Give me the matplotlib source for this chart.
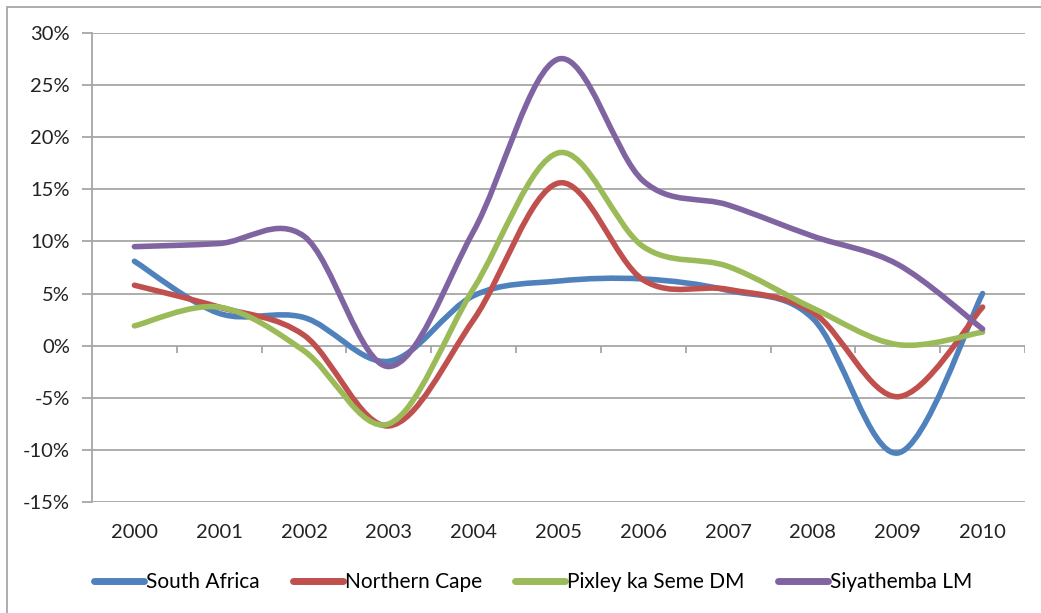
import numpy as np
import matplotlib
matplotlib.use("Agg")
import matplotlib.pyplot as plt
from matplotlib.path import Path
from matplotlib.patches import PathPatch, Rectangle
from matplotlib.lines import Line2D
from matplotlib.ticker import FuncFormatter

plt.rcParams["font.family"] = ["Lato", "DejaVu Sans"]

years = [2000, 2001, 2002, 2003, 2004, 2005, 2006, 2007, 2008, 2009, 2010]

# annual growth, %
south_africa   = [8.1, 3.1, 2.7, -1.5, 4.8, 6.2, 6.4, 5.3, 2.6, -10.3, 5.0]
northern_cape  = [5.8, 3.7, 1.0, -7.7, 2.5, 15.6, 6.3, 5.4, 3.2, -4.9, 3.7]
pixley_ka_seme = [1.9, 3.7, -0.5, -7.5, 5.5, 18.5, 9.5, 7.6, 3.6, 0.1, 1.3]
siyathemba     = [9.5, 9.8, 10.5, -2.0, 11.0, 27.5, 15.8, 13.5, 10.5, 7.8, 1.6]

series = [
    ("South Africa", south_africa, "#4F81BD"),
    ("Northern Cape", northern_cape, "#C0504D"),
    ("Pixley ka Seme DM", pixley_ka_seme, "#9BBB59"),
    ("Siyathemba LM", siyathemba, "#8064A2"),
]


def smooth_path(xs, ys):
    # Catmull-Rom style bezier segments, like a spreadsheet "smoothed line"
    p = np.column_stack([xs, ys]).astype(float)
    n = len(p)
    verts = [p[0]]
    codes = [Path.MOVETO]
    for i in range(n - 1):
        p0 = p[max(i - 1, 0)]
        p1 = p[i]
        p2 = p[i + 1]
        p3 = p[min(i + 2, n - 1)]
        c1 = p1 + (p2 - p0) / 6.0
        c2 = p2 - (p3 - p1) / 6.0
        verts += [c1, c2, p2]
        codes += [Path.CURVE4] * 3
    return Path(verts, codes)


fig = plt.figure(figsize=(10.41, 6.13), dpi=100)
ax = fig.add_axes([92 / 1041, 1 - 502 / 613, (1025 - 92) / 1041, (502 - 33) / 613])

# outer chart frame
fig.patches.append(Rectangle((7 / 1041, -0.05), 1.1, 1 - 7 / 613 + 0.05,
                             transform=fig.transFigure, fill=False,
                             edgecolor="#A0A0A0", linewidth=1.2))

x = np.arange(len(years))
ax.set_xlim(-0.5, len(years) - 0.5)
ax.set_ylim(-15, 30)

yticks = np.arange(-15, 31, 5)
for yv in yticks:
    ax.axhline(yv, color="#A6A6A6", linewidth=1.3, zorder=1)

# category boundary ticks on the zero line
tick_len = 7 * 45 / 469
ax.vlines(np.arange(len(years)) + 0.5, -tick_len, 0, color="#A6A6A6",
          linewidth=1.3, zorder=1)

for name, vals, col in series:
    ax.add_patch(PathPatch(smooth_path(x, vals), fill=False, edgecolor=col,
                           linewidth=4.0, capstyle="round", joinstyle="round",
                           zorder=3))

for side in ["top", "right", "bottom"]:
    ax.spines[side].set_visible(False)
ax.spines["left"].set_color("#A6A6A6")
ax.spines["left"].set_linewidth(1.3)

ax.set_yticks(yticks)
ax.yaxis.set_major_formatter(FuncFormatter(lambda v, _: f"{v:.0f}%"))
ax.tick_params(axis="y", length=7, width=1.3, color="#A6A6A6", pad=9,
               labelsize=14.5, labelcolor="#222222")
ax.set_xticks(x)
ax.set_xticklabels([str(y) for y in years])
ax.tick_params(axis="x", length=0, pad=16, labelsize=14.5, labelcolor="#222222")

handles = [Line2D([], [], color=col, linewidth=5, solid_capstyle="round")
           for _, _, col in series]
fig.legend(handles, [s[0] for s in series], loc="center", ncol=4,
           bbox_to_anchor=(0.512, 1 - 582 / 613), frameon=False,
           fontsize=15, handlelength=2.4, handletextpad=0.1,
           columnspacing=1.6)

fig.savefig("out.png", dpi=100)
